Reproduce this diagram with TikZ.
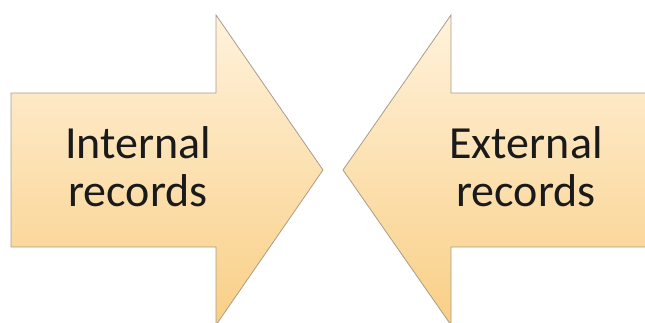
\documentclass[tikz,border=0pt]{standalone}
\usepackage{fontspec}
\setmainfont{Carlito}
\definecolor{arrowtop}{HTML}{FFF2DC}
\definecolor{arrowbottom}{HTML}{F9CF86}
\definecolor{arrowline}{HTML}{A99C88}
\definecolor{arrowtext}{HTML}{1A1A1A}
\begin{document}
\begin{tikzpicture}[x=1pt,y=-1pt,
    flecha/.style={draw=arrowline,line width=0.8pt,line join=miter,
      top color=arrowtop,bottom color=arrowbottom},
    rotulo/.style={align=center,text=arrowtext,inner sep=0pt,
      font=\fontsize{46}{48}\selectfont}]
  \useasboundingbox (0,0) rectangle (645,322);
  \clip (0,0) rectangle (645,322);

  % Flecha izquierda (apunta a la derecha)
  \draw[flecha] (11,93) -- (216,93) -- (216,15) -- (323,170)
    -- (216,325) -- (216,247) -- (11,247) -- cycle;
  \node[rotulo,anchor=base] (internal) at (138,206) {Internal\\records};

  % Flecha derecha (apunta a la izquierda)
  \draw[flecha] (660,93) -- (451,93) -- (451,15) -- (343,170)
    -- (451,325) -- (451,247) -- (660,247) -- cycle;
  \node[rotulo,anchor=base] (external) at (526,206) {External\\records};
\end{tikzpicture}
\end{document}
